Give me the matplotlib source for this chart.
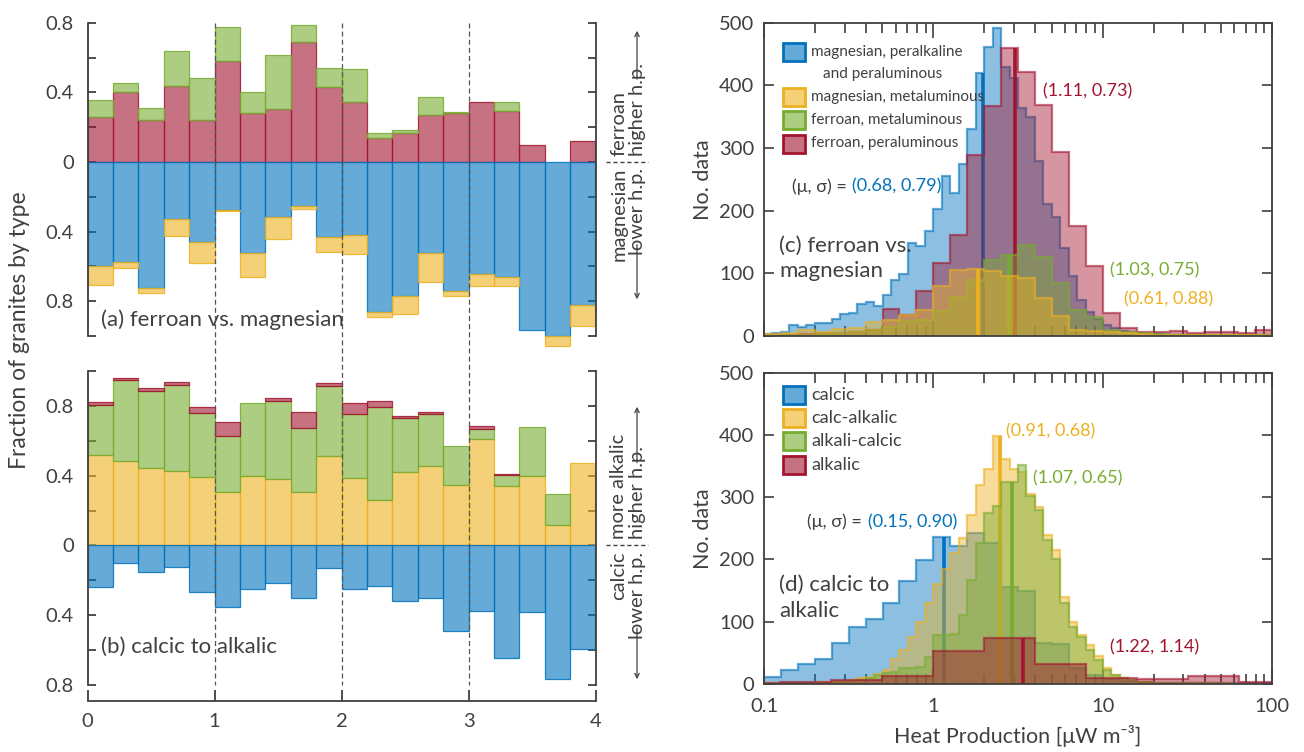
import numpy as np
import matplotlib
matplotlib.use('Agg')
import matplotlib.pyplot as plt
from matplotlib.colors import to_rgba
from matplotlib.patches import Rectangle, FancyArrowPatch
from matplotlib.lines import Line2D
from matplotlib import transforms

plt.rcParams['font.family'] = ['Lato', 'DejaVu Sans']

BLUE, YELLOW, GREEN, RED = '#0072BD', '#EDB120', '#77AC30', '#A2142F'
INK = '#404040'

# ---------------- (a) / (b): fractions per 0.2-wide bin, x from 0 to 4
bin_left = np.round(np.arange(0, 4, 0.2), 1)

# (a) ferroan stacked up (red then green), magnesian stacked down (blue then yellow)
a_fer_peral = [0.26, 0.40, 0.239, 0.435, 0.239, 0.58, 0.28, 0.305, 0.69, 0.429,
               0.343, 0.138, 0.167, 0.27, 0.282, 0.345, 0.293, 0.096, 0.0, 0.119]
a_fer_meta = [0.096, 0.054, 0.073, 0.203, 0.244, 0.198, 0.122, 0.31, 0.099, 0.111,
              0.191, 0.031, 0.017, 0.104, 0.007, 0.0, 0.052, 0.0, 0.0, 0.0]
a_mag_peral = [0.60, 0.573, 0.724, 0.328, 0.458, 0.276, 0.521, 0.318, 0.251, 0.433,
               0.418, 0.86, 0.77, 0.525, 0.739, 0.642, 0.663, 0.966, 0.998, 0.824]
a_mag_meta = [0.107, 0.038, 0.027, 0.099, 0.124, 0.008, 0.138, 0.126, 0.021, 0.086,
              0.113, 0.031, 0.104, 0.165, 0.031, 0.071, 0.05, 0.0, 0.059, 0.117]

# (b) calc-alkalic / alkali-calcic / alkalic stacked up, calcic down
b_calc_alk = [0.521, 0.483, 0.446, 0.427, 0.395, 0.305, 0.398, 0.381, 0.307, 0.51,
              0.385, 0.262, 0.423, 0.456, 0.349, 0.609, 0.343, 0.397, 0.115, 0.471]
b_alk_calc = [0.282, 0.463, 0.439, 0.493, 0.364, 0.325, 0.418, 0.447, 0.365, 0.406,
              0.366, 0.529, 0.307, 0.297, 0.222, 0.061, 0.059, 0.283, 0.178, 0.0]
b_alkalic = [0.021, 0.014, 0.017, 0.017, 0.034, 0.079, 0.0, 0.017, 0.092, 0.017,
             0.067, 0.037, 0.011, 0.011, 0.0, 0.014, 0.01, 0.0, 0.0, 0.0]
b_calcic = [0.238, 0.10, 0.155, 0.123, 0.266, 0.352, 0.249, 0.218, 0.301, 0.128,
            0.247, 0.234, 0.316, 0.301, 0.489, 0.374, 0.644, 0.381, 0.766, 0.592]

# ---------------- (c) / (d): histogram counts on log bins (0.1 -> 100)
edges_005 = 10 ** np.linspace(-1, 2, 61)   # 0.05-decade bins
edges_010 = 10 ** np.linspace(-1, 2, 31)   # 0.1-decade bins
edges_oct = [0.0625, 0.125, 0.25, 0.5, 1, 2, 4, 8, 16, 32, 64, 128]

c_mag_peral = [3, 5, 6, 17, 15, 18, 20, 21, 27, 35,
               37, 51, 54, 48, 66, 89, 99, 148, 143, 167,
               203, 255, 228, 275, 331, 419, 462, 491, 430, 412,
               364, 350, 280, 210, 190, 140, 95, 58, 38, 27,
               18, 12, 8, 6, 4, 3, 3, 2, 2, 2,
               2, 1, 1, 1, 1, 1, 1, 1, 1, 1]
c_fer_peral = [2, 2, 3, 4, 5, 7, 9, 43, 33, 72,
               117, 161, 289, 367, 459, 422, 369, 293, 176, 111,
               37, 13, 7, 6, 8, 4, 7, 6, 4, 9]
c_mag_meta = [3, 5, 9, 6, 11, 13, 23, 25, 33, 42,
              80, 106, 107, 104, 95, 92, 60, 32, 10, 8,
              6, 4, 3, 2, 2, 2, 1, 1, 1, 1]
c_fer_meta = [1, 1, 2, 3, 4, 6, 10, 14, 24, 25,
              40, 62, 90, 121, 130, 145, 126, 85, 41, 31,
              9, 6, 4, 3, 2, 2, 1, 1, 1, 1]
c_mu = {'mag_peral': 0.68, 'mag_meta': 0.61, 'fer_meta': 1.03, 'fer_peral': 1.11}

d_calcic = [11, 22, 32, 40, 66, 92, 104, 130, 166, 199,
            236, 221, 242, 226, 156, 150, 66, 64, 25, 15,
            8, 5, 3, 2, 2, 1, 1, 1, 1, 1]
d_calc_alk = [1, 1, 1, 2, 2, 2, 3, 3, 4, 5,
              7, 9, 12, 16, 22, 40, 55, 75, 100, 130,
              160, 185, 210, 235, 271, 320, 345, 398, 361, 345,
              340, 305, 285, 240, 215, 140, 100, 78, 62, 45,
              25, 15, 9, 6, 4, 3, 2, 2, 2, 1,
              1, 1, 1, 1, 1, 0, 1, 0, 0, 0]
d_alk_calc = [0, 0, 1, 1, 1, 2, 2, 2, 3, 4,
              5, 7, 9, 14, 18, 20, 25, 26, 28, 44,
              78, 79, 80, 111, 167, 226, 274, 286, 325, 325,
              351, 302, 280, 232, 200, 130, 92, 75, 55, 38,
              22, 14, 9, 6, 4, 3, 2, 2, 1, 1,
              1, 1, 1, 1, 0, 0, 0, 0, 0, 0]
d_alkalic = [1, 3, 6, 13, 53, 74, 32, 9, 8, 13, 3]
d_mu = {'calcic': 0.15, 'calc_alk': 0.91, 'alk_calc': 1.07, 'alkalic': 1.22}

# ---------------- layout (pixel boxes on a 1304x752 canvas)
W, H = 1304, 752
fig = plt.figure(figsize=(W / 100, H / 100), dpi=100)


def box(l, t, r, b):
    return [l / W, 1 - b / H, (r - l) / W, (b - t) / H]


def P(x, y):
    return (x / W, 1 - y / H)


ax_a = fig.add_axes(box(87.6, 22.7, 595.5, 336))
ax_b = fig.add_axes(box(87.6, 371, 595.5, 685))
ax_c = fig.add_axes(box(764, 22.7, 1272, 336))
ax_d = fig.add_axes(box(764, 372.7, 1272, 684))


def bars(ax, vals, base, color, down=False):
    vals = np.asarray(vals, float)
    base = np.asarray(base, float)
    keep = vals > 0
    s = -1 if down else 1
    ax.bar(bin_left[keep], s * vals[keep], width=0.2, bottom=s * base[keep], align='edge',
           facecolor=to_rgba(color, 0.6), edgecolor=to_rgba(color, 0.85), linewidth=0.9,
           clip_on=False, zorder=2)


zero = np.zeros(20)
bars(ax_a, a_fer_peral, zero, RED)
bars(ax_a, a_fer_meta, a_fer_peral, GREEN)
bars(ax_a, a_mag_peral, zero, BLUE, down=True)
bars(ax_a, a_mag_meta, a_mag_peral, YELLOW, down=True)

bars(ax_b, b_calc_alk, zero, YELLOW)
bars(ax_b, b_alk_calc, b_calc_alk, GREEN)
bars(ax_b, b_alkalic, np.add(b_calc_alk, b_alk_calc), RED)
bars(ax_b, b_calcic, zero, BLUE, down=True)

for ax, lo, hi in [(ax_a, -1.0, 0.8), (ax_b, -0.8, 1.0)]:
    ax.set_xlim(0, 4)
    ax.set_ylim(lo, hi)
    ax.spines['top'].set_visible(False)
    for s in ['left', 'right']:
        ax.spines[s].set_color(INK)
        ax.spines[s].set_linewidth(1.3)
    ticks = np.round(np.arange(lo, hi + 0.01, 0.2), 1)
    ax.set_yticks(ticks)
    ax.set_yticklabels(['%g' % abs(t) if abs(t / 0.4 - round(t / 0.4)) < 1e-6 else '' for t in ticks])
    ax.tick_params(axis='y', direction='in', left=True, right=True, length=6, width=1.3,
                   color=INK, labelsize=14.5, labelcolor=INK, pad=10)

ax_a.spines['bottom'].set_visible(False)
ax_a.tick_params(axis='x', bottom=False, labelbottom=False)
ax_b.spines['bottom'].set_position(('outward', 11.3))
ax_b.spines['bottom'].set_bounds(0, 4)
ax_b.spines['bottom'].set_color(INK)
ax_b.spines['bottom'].set_linewidth(1.3)
ax_b.set_xticks([0, 1, 2, 3, 4])
ax_b.tick_params(axis='x', direction='in', length=8, width=1.3, color=INK,
                 labelsize=14.5, labelcolor=INK, pad=9)

# dashed guides through both left panels
trans = transforms.blended_transform_factory(ax_b.transData, fig.transFigure)
for xv in [1, 2, 3]:
    fig.add_artist(Line2D([xv, xv], [1 - 22.7 / H, 1 - 685 / H], transform=trans,
                          color='#555555', lw=0.9, ls=(0, (4, 2.5))))

ax_a.text(0.103, -0.908, '(a) ferroan vs. magnesian', fontsize=16, color=INK, va='center')
ax_b.text(0.103, -0.582, '(b) calcic to alkalic', fontsize=16, color=INK, va='center')
fig.text(20 / W, 1 - 330 / H, 'Fraction of granites by type', rotation=90,
         ha='center', va='center', fontsize=16.5, color=INK)

# side notes for the left panels
side = dict(rotation=90, ha='center', fontsize=14.5, color=INK)
for yz, up1, up2, dn1, dn2, top_arrow, bot_arrow in [
        (161.9, 'ferroan', 'higher h.p.', 'magnesian', 'lower h.p.', 28, 302),
        (545.4, 'more alkalic', 'higher h.p.', 'calcic', 'lower h.p.', 404, 682)]:
    fig.text(*P(619, yz - 6), up1, va='bottom', **side)
    fig.text(*P(637, yz - 6), up2, va='bottom', **side)
    fig.text(*P(619, yz + 6), dn1, va='top', **side)
    fig.text(*P(637, yz + 6), dn2, va='top', **side)
    fig.add_artist(FancyArrowPatch(P(637, yz - 80), P(637, top_arrow), transform=fig.transFigure,
                                   arrowstyle='->', mutation_scale=8, lw=0.9, color=INK))
    fig.add_artist(FancyArrowPatch(P(637, yz + 80), P(637, bot_arrow), transform=fig.transFigure,
                                   arrowstyle='->', mutation_scale=8, lw=0.9, color=INK))
    fig.add_artist(Line2D([606 / W, 648 / W], [1 - yz / H] * 2, transform=fig.transFigure,
                          color=INK, lw=1.0, ls=(0, (3, 2))))


# ---------------- histograms
def hist(ax, counts, edges, color, mu):
    counts = np.asarray(counts, float)
    edges = np.asarray(edges, float)
    ax.stairs(counts, edges, fill=True, facecolor=to_rgba(color, 0.45), edgecolor='none',
              linewidth=0, zorder=2)
    ax.stairs(counts, edges, fill=False, edgecolor=to_rgba(color, 0.6), linewidth=1.6, zorder=2)
    m = np.exp(mu)
    h = counts[np.searchsorted(edges, m) - 1]
    ax.plot([m, m], [0, h], color=color, lw=2.6, solid_capstyle='butt', zorder=2)


hist(ax_c, c_mag_peral, edges_005, BLUE, c_mu['mag_peral'])
hist(ax_c, c_fer_peral, edges_010, RED, c_mu['fer_peral'])
hist(ax_c, c_fer_meta, edges_010, GREEN, c_mu['fer_meta'])
hist(ax_c, c_mag_meta, edges_010, YELLOW, c_mu['mag_meta'])

hist(ax_d, d_calcic, edges_010, BLUE, d_mu['calcic'])
hist(ax_d, d_calc_alk, edges_005, YELLOW, d_mu['calc_alk'])
hist(ax_d, d_alk_calc, edges_005, GREEN, d_mu['alk_calc'])
hist(ax_d, d_alkalic, edges_oct, RED, d_mu['alkalic'])

for ax in (ax_c, ax_d):
    ax.set_xscale('log')
    ax.set_xlim(0.1, 100)
    ax.set_ylim(0, 500)
    ax.set_yticks([0, 100, 200, 300, 400, 500])
    for s in ax.spines.values():
        s.set_color(INK)
        s.set_linewidth(1.3)
        s.set_zorder(5)
    ax.tick_params(which='both', direction='in', top=True, right=True, color=INK, width=1.2)
    ax.tick_params(axis='x', which='major', length=11)
    ax.tick_params(axis='x', which='minor', length=7)
    ax.tick_params(axis='y', which='major', length=7, labelsize=14.5, labelcolor=INK, pad=7)
    ax.set_ylabel('No. data', fontsize=15.5, color=INK, labelpad=4)

ax_c.tick_params(axis='x', which='both', labelbottom=False)
ax_d.set_xticks([0.1, 1, 10, 100])
ax_d.set_xticklabels(['0.1', '1', '10', '100'])
ax_d.tick_params(axis='x', which='major', labelsize=14.5, labelcolor=INK, pad=10)
ax_d.set_xlabel('Heat Production [μW m⁻³]', fontsize=15.5, color=INK, labelpad=7)

# annotations (c)
ann = dict(fontsize=13, va='center')
ax_c.text(0.328, 238, '(μ, σ) = ', ha='right', color=INK, **ann)
ax_c.text(0.331, 238, '(0.68, 0.79)', ha='left', color=BLUE, **ann)
ax_c.text(4.45, 391, '(1.11, 0.73)', color=RED, **ann)
ax_c.text(11.07, 105, '(1.03, 0.75)', color=GREEN, **ann)
ax_c.text(13.4, 59, '(0.61, 0.88)', color=YELLOW, **ann)
ax_c.text(0.1227, 124, '(c) ferroan vs.\nmagnesian', fontsize=16, color=INK, va='center',
          linespacing=1.35, zorder=6)

# annotations (d)
ax_d.text(0.405, 260, '(μ, σ) = ', ha='right', color=INK, **ann)
ax_d.text(0.409, 260, '(0.15, 0.90)', ha='left', color=BLUE, **ann)
ax_d.text(2.69, 406, '(0.91, 0.68)', color=YELLOW, **ann)
ax_d.text(3.88, 331, '(1.07, 0.65)', color=GREEN, **ann)
ax_d.text(11.07, 59, '(1.22, 1.14)', color=RED, **ann)
ax_d.text(0.1227, 138, '(d) calcic to\nalkalic', fontsize=16, color=INK, va='center',
          linespacing=1.35, zorder=6)


# hand-built legends
def legend_row(y, color, label, size):
    fig.add_artist(Rectangle(P(783, y + 9), 22 / W, 18 / H, transform=fig.transFigure,
                             facecolor=to_rgba(color, 0.6), edgecolor=color, lw=2))
    fig.text(*P(811, y), label, va='center', ha='left', fontsize=size, color=INK)


legend_row(52, BLUE, 'magnesian, peralkaline', 11)
fig.text(*P(823, 74), 'and peraluminous', va='center', ha='left', fontsize=11, color=INK)
legend_row(97, YELLOW, 'magnesian, metaluminous', 11)
legend_row(120, GREEN, 'ferroan, metaluminous', 11)
legend_row(143.5, RED, 'ferroan, peraluminous', 11)

legend_row(395, BLUE, 'calcic', 13)
legend_row(418, YELLOW, 'calc-alkalic', 13)
legend_row(441, GREEN, 'alkali-calcic', 13)
legend_row(464.5, RED, 'alkalic', 13)

fig.savefig('out.png', dpi=100)
